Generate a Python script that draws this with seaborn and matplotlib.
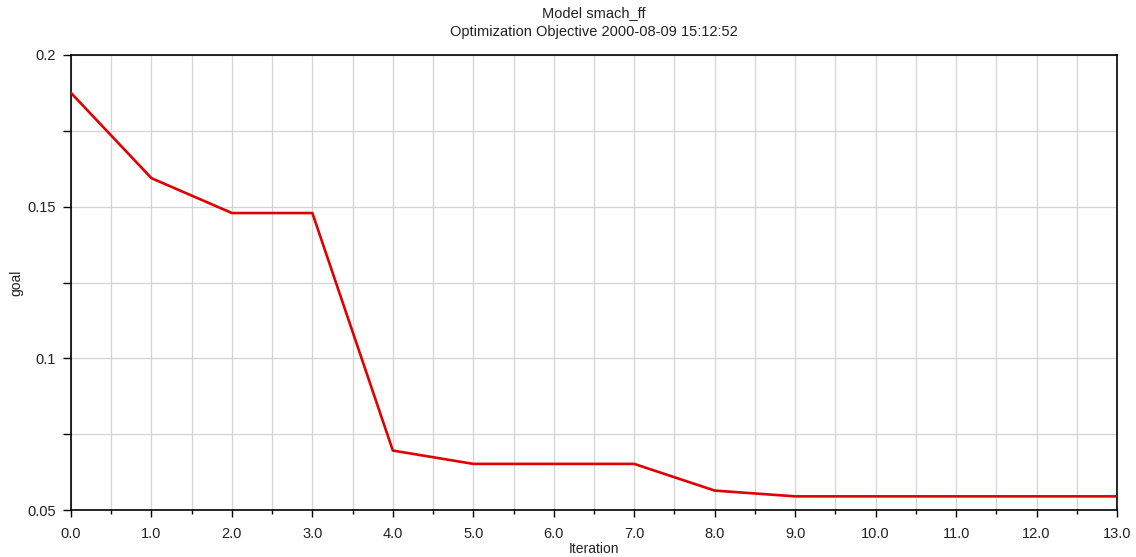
import matplotlib
matplotlib.use("Agg")
import matplotlib.pyplot as plt
import seaborn as sns
import numpy as np
import pandas as pd
from matplotlib.ticker import MultipleLocator, FuncFormatter

iteration = [0, 1, 2, 3, 4, 5, 6, 7, 8, 9, 10, 11, 12, 13]
goal = [0.1875, 0.1594, 0.1479, 0.1479, 0.0696, 0.0652, 0.0652, 0.0652,
        0.0564, 0.0545, 0.0545, 0.0545, 0.0545, 0.0545]
title_lines = ["Model smach_ff", "Optimization Objective 2000-08-09 15:12:52"]

sns.set_style("white")
plt.rcParams['font.family'] = ['Liberation Sans', 'DejaVu Sans']

df = pd.DataFrame({"Iteration": iteration, "goal": goal})

fig = plt.figure(figsize=(11.36, 5.57), dpi=100)
ax = fig.add_axes([71/1136, 1 - 510/557, (1117-71)/1136, (510-55)/557])

ax.xaxis.set_major_locator(MultipleLocator(1.0))
ax.xaxis.set_minor_locator(MultipleLocator(0.5))
ax.yaxis.set_major_locator(MultipleLocator(0.025))
ax.grid(True, which="both", color="#d4d4d4", linewidth=0.9)
ax.set_axisbelow(True)

sns.lineplot(data=df, x="Iteration", y="goal", ax=ax, color="#e00000",
             linewidth=1.9, zorder=3)

ax.set_xlim(0, 13)
ax.set_ylim(0.05, 0.2)

def yfmt(v, pos):
    r = round(v / 0.05)
    if abs(v - r * 0.05) < 1e-6:
        return f"{v:g}"
    return ""

ax.xaxis.set_major_formatter(FuncFormatter(lambda v, p: f"{v:.1f}"))
ax.yaxis.set_major_formatter(FuncFormatter(yfmt))

ax.tick_params(axis="x", which="major", direction="out", length=5, width=1,
               color="black", labelsize=10.5, labelcolor="#222222", pad=7, bottom=True)
ax.tick_params(axis="x", which="minor", direction="out", length=3, width=1,
               color="black", bottom=True)
ax.tick_params(axis="y", which="major", direction="out", length=6, width=1,
               color="black", labelsize=10.5, labelcolor="#222222", pad=5, left=True)
for s in ax.spines.values():
    s.set_color("black")
    s.set_linewidth(1.2)
    s.set_visible(True)

ax.set_xlabel("Iteration", fontsize=10, color="#222222")
ax.set_ylabel("goal", fontsize=10, color="#222222")
ax.xaxis.set_label_coords(0.5, (510 - 542) / 455)
ax.yaxis.set_label_coords((23 - 71) / 1046, 0.5)
ax.set_title("\n".join(title_lines), fontsize=10.5, color="#222222", pad=14, linespacing=1.45)

fig.savefig("out.png", dpi=100)
